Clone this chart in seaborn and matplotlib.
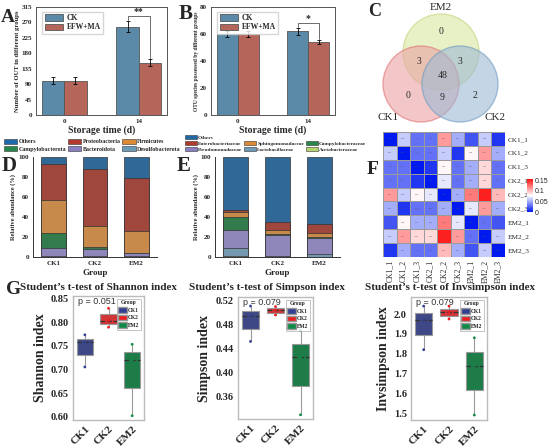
import numpy as np
import pandas as pd
import matplotlib
matplotlib.use('Agg')
import matplotlib.pyplot as plt
import seaborn as sns
from matplotlib.patches import Patch, Circle
from matplotlib.colors import LinearSegmentedColormap

# ---------------- data ----------------
days = ['0', '14']
treatments = ['CK', 'EFW+MA']
otu_number = [[100, 100], [258, 153]]        # rows: day, cols: treatment
otu_number_err = [[10, 10], [15, 9]]
otu_species = [[60, 60], [62, 54]]
otu_species_err = [[2.5, 2.5], [2.5, 1.5]]

venn_sets = ['EM2', 'CK1', 'CK2']
venn_regions = ['EM2', 'CK1&EM2', 'EM2&CK2', 'all', 'CK1', 'CK1&CK2', 'CK2']
venn_counts = [0, 3, 3, 48, 0, 9, 2]

groups = ['CK1', 'CK2', 'EM2']

phyla = ['Others', 'Campylobacterota', 'Proteobacteria', 'Bacteroidota',
         'Firmicutes', 'Desulfobacterota']
phylum_stack = ['Desulfobacterota', 'Bacteroidota', 'Campylobacterota',
                'Firmicutes', 'Proteobacteria', 'Others']
phylum_abund = {
    'Desulfobacterota': [1.0, 1.0, 1.5],
    'Bacteroidota': [8.0, 7.0, 2.5],
    'Campylobacterota': [15.5, 2.0, 0.5],
    'Firmicutes': [33.0, 21.0, 22.0],
    'Proteobacteria': [35.5, 57.0, 53.0],
    'Others': [7.0, 12.0, 20.5],
}

families = ['Others', 'Enterobacteriaceae', 'Pseudomonadaceae', None,
            'Sphingomonadaceae', 'Lactobacillaceae', None,
            'Campylobacteraceae', 'Acetobacteraceae']
family_stack = ['Acetobacteraceae', 'Lactobacillaceae', 'Pseudomonadaceae',
                'Campylobacteraceae', 'Sphingomonadaceae',
                'Enterobacteriaceae', 'Others']
family_abund = {
    'Acetobacteraceae': [1.0, 0.3, 0.3],
    'Lactobacillaceae': [8.4, 0.7, 2.4],
    'Pseudomonadaceae': [17.4, 20.8, 16.8],
    'Campylobacteraceae': [12.8, 1.0, 1.0],
    'Sphingomonadaceae': [5.7, 4.0, 3.7],
    'Enterobacteriaceae': [1.7, 8.4, 8.4],
    'Others': [53.0, 64.8, 67.4],
}

samples = ['CK1_1', 'CK1_2', 'CK1_3', 'CK2_1', 'CK2_2', 'CK2_3',
           'EM2_1', 'EM2_2', 'EM2_3']
dist = [
    [0.00, 0.06, 0.03, 0.03, 0.11, 0.05, 0.02, 0.06, 0.01],
    [0.06, 0.00, 0.03, 0.03, 0.06, 0.01, 0.08, 0.11, 0.05],
    [0.03, 0.03, 0.00, 0.01, 0.08, 0.03, 0.05, 0.09, 0.03],
    [0.03, 0.03, 0.01, 0.00, 0.07, 0.03, 0.05, 0.09, 0.03],
    [0.11, 0.06, 0.08, 0.07, 0.00, 0.05, 0.12, 0.15, 0.10],
    [0.05, 0.01, 0.03, 0.03, 0.05, 0.00, 0.07, 0.11, 0.05],
    [0.02, 0.08, 0.05, 0.05, 0.12, 0.07, 0.00, 0.03, 0.02],
    [0.06, 0.11, 0.09, 0.09, 0.15, 0.11, 0.03, 0.00, 0.06],
    [0.01, 0.05, 0.03, 0.03, 0.10, 0.05, 0.02, 0.06, 0.00],
]

shannon = {'CK1': [0.705, 0.757, 0.773], 'CK2': [0.789, 0.803, 0.829],
           'EM2': [0.602, 0.720, 0.753]}
simpson = {'CK1': [0.451, 0.494, 0.510], 'CK2': [0.495, 0.503, 0.509],
           'EM2': [0.329, 0.425, 0.469]}
invsimpson = {'CK1': [1.82, 1.97, 2.04], 'CK2': [1.975, 2.01, 2.04],
              'EM2': [1.49, 1.74, 1.88]}
p_values = ['p = 0.051', 'p = 0.079', 'p = 0.079']

# ---------------- style ----------------
W, H = 550, 446
SERIF = ['Liberation Serif', 'DejaVu Serif']
SANS = ['Liberation Sans', 'DejaVu Sans']
CK_COL, EFW_COL = '#4e8db5', '#c45a4b'
phylum_cols = {'Others': '#1f69a8', 'Proteobacteria': '#b13a2c',
               'Firmicutes': '#dc8a36', 'Campylobacterota': '#27874a',
               'Bacteroidota': '#8a7fc1', 'Desulfobacterota': '#6b9bb7'}
family_cols = {'Others': '#1f69a8', 'Enterobacteriaceae': '#b13a2c',
               'Sphingomonadaceae': '#dc8a36', 'Campylobacteraceae': '#27874a',
               'Pseudomonadaceae': '#8a7fc1', 'Lactobacillaceae': '#6b9bb7',
               'Acetobacteraceae': '#b6d56c'}
box_cols = {'CK1': '#323f92', 'CK2': '#ec1c1f', 'EM2': '#0f8b47'}

sns.set_style('white')
plt.rcParams['font.family'] = SERIF
plt.rcParams['font.weight'] = 'bold'
plt.rcParams['axes.labelweight'] = 'bold'


def px_axes(fig, x0, y0, x1, y1):
    return fig.add_axes([x0 / W, 1 - y1 / H, (x1 - x0) / W, (y1 - y0) / H])


def bar_panel(ax, vals, errs, ymax, yticks, ylabel, ylab_size, ylab_x, star):
    df = pd.DataFrame({'day': np.repeat(days, 2), 'group': treatments * 2,
                       'value': np.ravel(vals)})
    sns.barplot(data=df, x='day', y='value', hue='group',
                palette=[CK_COL, EFW_COL], width=0.6, edgecolor='#555555',
                linewidth=0.6, errorbar=None, ax=ax)
    tops = []
    for cont, err in zip(ax.containers, np.array(errs).T):
        xs = [b.get_x() + b.get_width() / 2 for b in cont]
        hs = [b.get_height() for b in cont]
        ax.errorbar(xs, hs, yerr=err, fmt='none', ecolor='black',
                    elinewidth=0.6, capsize=1.2, capthick=0.6)
        tops.append([(x, h + e) for x, h, e in zip(xs, hs, err)])
    (x1, t1), (x2, t2) = tops[0][1], tops[1][1]
    gap = ymax * 0.012
    level = max(t1, t2) + ymax * 0.05
    ax.plot([x1, x1, x2, x2], [t1 + gap, level, level, t2 + gap],
            color='#555555', lw=0.6)
    ax.text((x1 + x2) / 2, level, star, ha='center', va='bottom',
            fontsize=7, fontweight='bold')
    ax.set_ylim(0, ymax)
    ax.set_yticks(yticks)
    ax.tick_params(labelsize=5, length=2, width=0.5, pad=1)
    ax.set_xlabel('Storage time (d)', fontsize=7, labelpad=1)
    ax.set_ylabel(ylabel, fontsize=ylab_size)
    ax.yaxis.set_label_coords(ylab_x, 0.5)
    for s in ax.spines.values():
        s.set_color('#555555')
        s.set_linewidth(0.7)
    h, l = ax.get_legend_handles_labels()
    ax.legend(h, l, loc='upper left', bbox_to_anchor=(0.02, 0.99),
              fontsize=5.5, frameon=True, edgecolor='#cccccc',
              fancybox=False, handlelength=2.4, handleheight=0.9,
              borderpad=0.3, labelspacing=0.15, handletextpad=0.5)


def stack_panel(ax, stack, abund, cols, ylab_x):
    tops = np.cumsum([abund[k] for k in stack], axis=0)
    for name, top in zip(reversed(stack), tops[::-1]):
        sns.barplot(x=groups, y=top, color=cols[name], width=0.6,
                    edgecolor='#333333', linewidth=0.5, ax=ax)
    ax.set_ylim(0, 100)
    ax.set_yticks(range(0, 101, 20))
    ax.tick_params(labelsize=5, length=2, width=0.5, pad=1)
    ax.set_xlabel('Group', fontsize=6.5, labelpad=2)
    ax.set_ylabel('Relative abundance (%)', fontsize=4.6)
    ax.yaxis.set_label_coords(ylab_x, 0.5)
    sns.despine(ax=ax)
    for s in ax.spines.values():
        s.set_color('#333333')
        s.set_linewidth(0.7)


def box_panel(ax, values, yticks, ylim, ylabel, ptext, fmt):
    df = pd.DataFrame({'Group': np.repeat(groups, 3),
                       'value': np.concatenate([values[g] for g in groups])})
    sns.boxplot(data=df, x='Group', y='value', hue='Group', palette=box_cols,
                width=0.68, showcaps=False, fliersize=0, linecolor='#999999',
                linewidth=0.8, legend=False,
                medianprops=dict(color='#333333', linestyle='--', lw=0.9),
                ax=ax)
    sns.stripplot(data=df, x='Group', y='value', hue='Group',
                  palette=box_cols, jitter=False, size=2, legend=False, ax=ax)
    ax.set_ylim(*ylim)
    ax.set_yticks(yticks)
    ax.set_yticklabels([fmt % v for v in yticks])
    ax.set_xlabel('')
    ax.set_ylabel(ylabel, fontsize=10, labelpad=3)
    ax.tick_params(axis='y', labelsize=7.5, length=2, color='#999999', pad=1)
    ax.tick_params(axis='x', labelsize=8, length=2, color='#999999', pad=1)
    for lab in ax.get_xticklabels():
        lab.set_rotation(45)
        lab.set_ha('right')
        lab.set_rotation_mode('anchor')
    for s in ax.spines.values():
        s.set_color('#bbbbbb')
        s.set_linewidth(1.0)
    ax.text(0.07, 0.955, ptext, transform=ax.transAxes, ha='left', va='center',
            fontsize=6.5, family=SANS, fontweight='normal', color='#333333')
    handles = [Patch(facecolor=box_cols[g], edgecolor='#999999', label=g)
               for g in groups]
    leg = ax.legend(handles=handles, title='Group', loc='upper right',
                    bbox_to_anchor=(1.0, 1.0), fontsize=4, title_fontsize=4,
                    frameon=True, edgecolor='#999999', fancybox=False,
                    handlelength=1.5, handleheight=1.1, labelspacing=0.35,
                    borderpad=0.3, handletextpad=0.3)
    leg.get_frame().set_linewidth(0.5)


fig = plt.figure(figsize=(W / 100, H / 100), dpi=100)

# ---- A ----
axA = px_axes(fig, 36, 7, 167, 115)
bar_panel(axA, otu_number, otu_number_err, 315, range(0, 316, 45),
          'Number of OUT in different groups', 4.8, -0.12, '**')

# ---- B ----
axB = px_axes(fig, 211, 7, 335, 115)
bar_panel(axB, otu_species, otu_species_err, 80, range(0, 81, 20),
          'OTU species possessed by different groups', 4.0, -0.095, '*')

# ---- C: Venn ----
axC = px_axes(fig, 370, 0, 515, 130)
axC.set_xlim(370, 515)
axC.set_ylim(130, 0)
axC.set_aspect('equal')
axC.axis('off')
circ = {'EM2': ((441, 52), '#d9e6a0', '#c3d77e'),
        'CK1': ((421, 84), '#eba2a2', '#e07474'),
        'CK2': ((460, 84), '#9db9d4', '#6e9cc4')}
for name in venn_sets:
    (cx, cy), fc, ec = circ[name]
    axC.add_patch(Circle((cx, cy), 38, facecolor=fc, edgecolor=ec,
                         alpha=0.6, lw=1.0))
region_xy = {'EM2': (441, 31), 'CK1&EM2': (419, 62), 'EM2&CK2': (460, 62),
             'all': (443, 75), 'CK1': (408, 95), 'CK1&CK2': (442, 97),
             'CK2': (475, 95)}
for reg, n in zip(venn_regions, venn_counts):
    axC.text(*region_xy[reg], str(n), ha='center', va='center', fontsize=7,
             fontweight='normal')
for name, xy in zip(venn_sets, [(441, 7), (388, 118), (495, 118)]):
    axC.text(*xy, name, ha='center', va='center', fontsize=8,
             fontweight='normal')

# ---- D ----
axD = px_axes(fig, 33, 157, 157, 257)
stack_panel(axD, phylum_stack, phylum_abund, phylum_cols, -0.14)
fig.legend(handles=[Patch(facecolor=phylum_cols[p], edgecolor='#333333',
                          lw=0.4, label=p) for p in phyla],
           loc='upper left', bbox_to_anchor=(4 / W, 1 - 139 / H), ncol=3,
           fontsize=4.3, frameon=False, handlelength=2.2, handleheight=0.8,
           columnspacing=0.35, labelspacing=0.3, handletextpad=0.2,
           borderpad=0, borderaxespad=0)

# ---- E ----
axE = px_axes(fig, 215, 157, 340, 257)
stack_panel(axE, family_stack, family_abund, family_cols, -0.13)
fam_handles = [Patch(facecolor=family_cols[f], edgecolor='#333333', lw=0.4,
                     label=f) if f else Patch(alpha=0, label=' ')
               for f in families]
fig.legend(handles=fam_handles, loc='upper left',
           bbox_to_anchor=(185 / W, 1 - 135 / H), ncol=3,
           fontsize=3.8, frameon=False, handlelength=2.3,
           handleheight=0.8, columnspacing=0.3, labelspacing=0.23,
           handletextpad=0.2, borderpad=0, borderaxespad=0)

# ---- F ----
axF = px_axes(fig, 383, 132, 505, 257)
cax = px_axes(fig, 527, 179, 533, 212)
cmap = LinearSegmentedColormap.from_list('bwr2', ['#0019f0', '#ffffff', '#ff1010'])
sns.heatmap(pd.DataFrame(dist, index=samples, columns=samples), cmap=cmap,
            vmin=0, vmax=0.155, annot=True, fmt='.2f',
            annot_kws={'size': 1.6, 'color': '#555555', 'fontweight': 'normal'},
            linewidths=0.5, linecolor='#9a9a9a', xticklabels=samples,
            yticklabels=samples, cbar_ax=cax, ax=axF)
axF.yaxis.tick_right()
for lab in axF.get_yticklabels():
    lab.set_rotation(0)
    lab.set_fontsize(5.2)
    lab.set_fontweight('normal')
for lab in axF.get_xticklabels():
    lab.set_rotation(90)
    lab.set_fontsize(5.5)
    lab.set_fontweight('normal')
axF.tick_params(length=0, pad=2)
cax.set_yticks([0, 0.05, 0.1, 0.15])
cax.set_yticklabels(['0', '0.05', '0.1', '0.15'], family=SANS,
                    fontweight='normal')
cax.tick_params(labelsize=5, length=0, pad=1)

# ---- G ----
axG1 = px_axes(fig, 73, 296, 144, 420)
box_panel(axG1, shannon, np.arange(0.60, 0.851, 0.05), (0.593, 0.855),
          'Shannon index', p_values[0], '%.2f')
axG2 = px_axes(fig, 238, 297, 313, 419)
box_panel(axG2, simpson, np.arange(0.36, 0.521, 0.04), (0.322, 0.525),
          'Simpson index', p_values[1], '%.2f')
axG3 = px_axes(fig, 411, 297, 487, 420)
box_panel(axG3, invsimpson, np.arange(1.5, 2.01, 0.1), (1.465, 2.086),
          'Invsimpson index', p_values[2], '%.1f')

for x, title in zip([98, 267, 450], ['Shannon', 'Simpson', 'Invsimpson']):
    fig.text(x / W, 1 - 287 / H, 'Student\u2019s t-test of %s index' % title,
             ha='center', va='center', fontsize=8, fontweight='bold')

# ---- panel letters ----
for letter, x, y, size in [('A', 8, 18, 14), ('B', 186, 14, 15),
                           ('C', 375, 12, 13), ('D', 9, 166, 15),
                           ('E', 184, 166, 15), ('F', 373, 169, 14),
                           ('G', 14, 290, 14)]:
    fig.text(x / W, 1 - y / H, letter, ha='center', va='center',
             fontsize=size, fontweight='bold')

fig.savefig('out.png', dpi=100)
